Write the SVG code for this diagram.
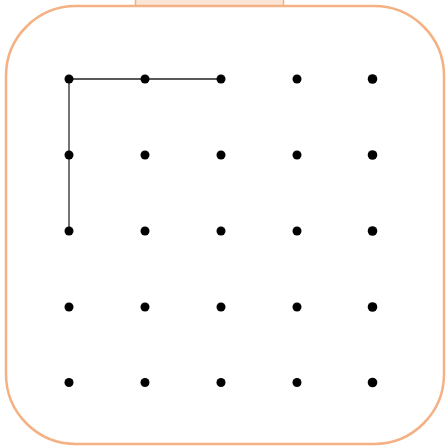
<svg xmlns="http://www.w3.org/2000/svg" width="447" height="446" viewBox="0 0 447 446">
<style>
.frame{fill:#ffffff;stroke:#F4B183;stroke-width:2.5}
.tab{fill:#FBE5D6;stroke:#F4B183;stroke-width:1.5}
.dot{fill:#000000}
.edge{stroke:#222222;stroke-width:1.5;fill:none}
</style>
<g id="board">
<rect class="tab" x="135.5" y="-5" width="148" height="11"/>
<rect class="frame" x="6" y="6" width="438" height="438" rx="70" ry="70"/>
</g>
<g id="connectors">
<line class="edge" x1="69" y1="79" x2="221" y2="79"/>
<line class="edge" x1="69" y1="79" x2="69" y2="231" style="stroke:#444444"/>
</g>
<g id="dots">
<g id="r0"><circle class="dot" cx="69" cy="79" r="4.5"/><circle class="dot" cx="145" cy="79" r="4.5"/><circle class="dot" cx="221" cy="79" r="4.5"/><circle class="dot" cx="297" cy="79" r="4.5"/><circle class="dot" cx="372.5" cy="79" r="4.8"/></g>
<g id="r1"><circle class="dot" cx="69" cy="155" r="4.5"/><circle class="dot" cx="145" cy="155" r="4.5"/><circle class="dot" cx="221" cy="155" r="4.5"/><circle class="dot" cx="297" cy="155" r="4.5"/><circle class="dot" cx="372.5" cy="155" r="4.8"/></g>
<g id="r2"><circle class="dot" cx="69" cy="231" r="4.5"/><circle class="dot" cx="145" cy="231" r="4.5"/><circle class="dot" cx="221" cy="231" r="4.5"/><circle class="dot" cx="297" cy="231" r="4.5"/><circle class="dot" cx="372.5" cy="231" r="4.8"/></g>
<g id="r3"><circle class="dot" cx="69" cy="307" r="4.5"/><circle class="dot" cx="145" cy="307" r="4.5"/><circle class="dot" cx="221" cy="307" r="4.5"/><circle class="dot" cx="297" cy="307" r="4.5"/><circle class="dot" cx="372.5" cy="307" r="4.8"/></g>
<g id="r4"><circle class="dot" cx="69" cy="382.5" r="4.5"/><circle class="dot" cx="145" cy="382.5" r="4.5"/><circle class="dot" cx="221" cy="382.5" r="4.5"/><circle class="dot" cx="297" cy="382.5" r="4.5"/><circle class="dot" cx="372.5" cy="382.5" r="4.8"/></g>
</g>
</svg>
